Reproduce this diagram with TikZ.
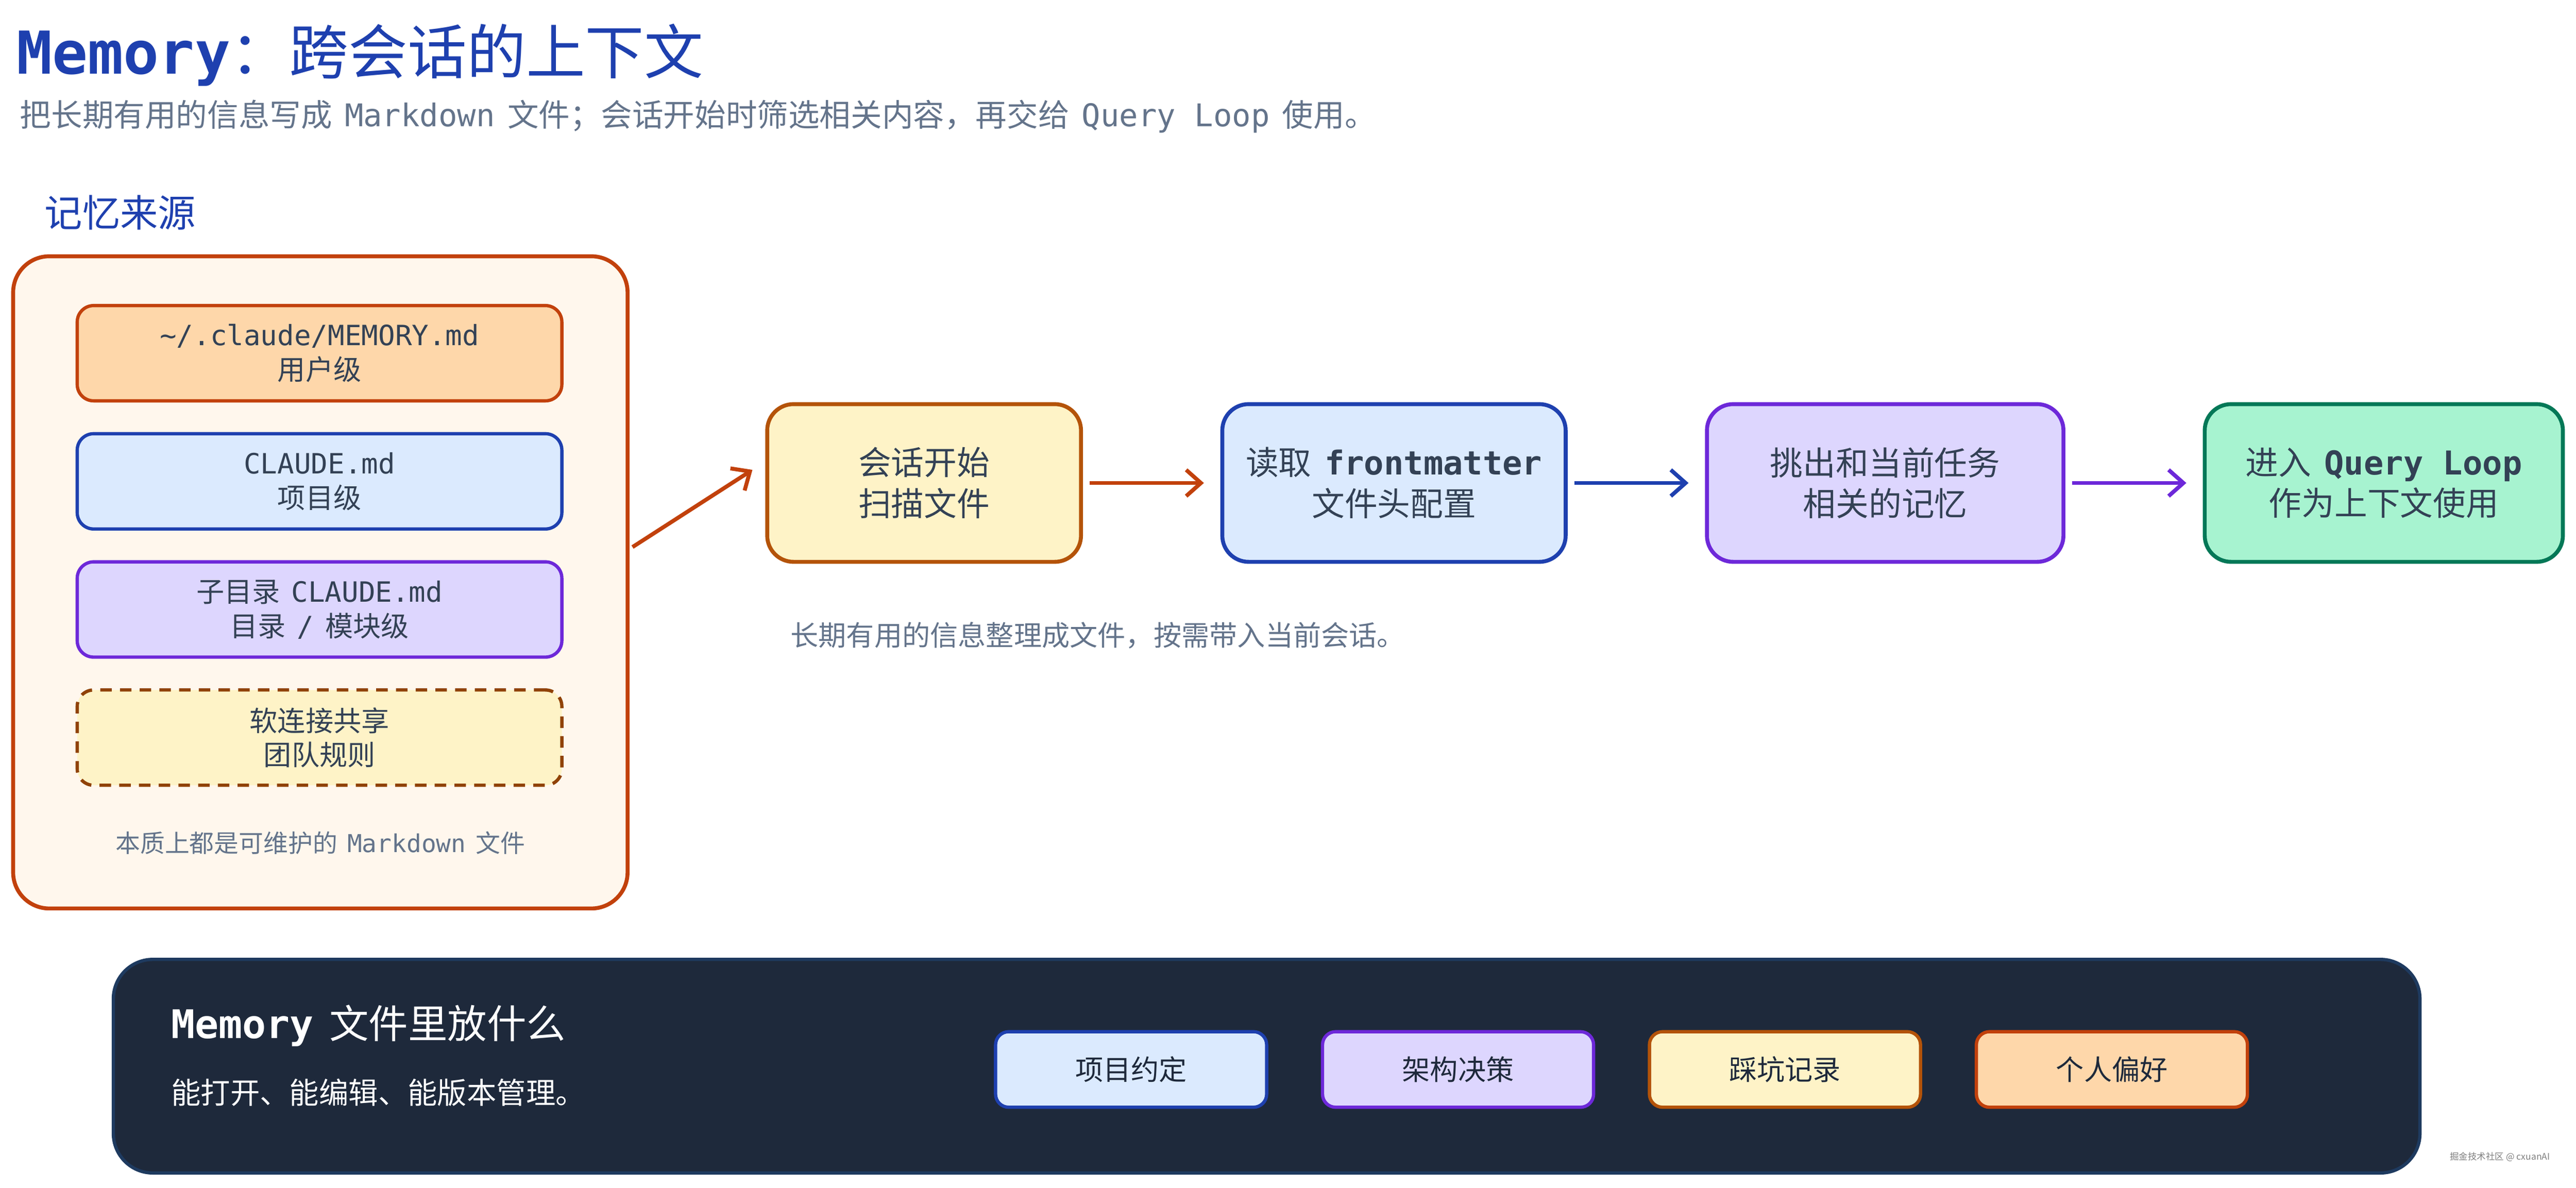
\documentclass[tikz,border=0pt]{standalone}
\usepackage{fontspec}
\setmainfont{Noto Sans CJK SC}
\setmonofont{DejaVu Sans Mono}
\usetikzlibrary{arrows.meta}
\newcommand{\mt}[1]{\hspace{0.4em}\texttt{#1}\hspace{0.4em}}
\definecolor{tblue}{HTML}{1E40AF}
\definecolor{tgray}{HTML}{64748B}
\definecolor{ink}{HTML}{334155}
\definecolor{oF}{HTML}{FED7AA}\definecolor{oS}{HTML}{C2410C}
\definecolor{bF}{HTML}{DBEAFE}\definecolor{bS}{HTML}{1E40AF}
\definecolor{pF}{HTML}{DDD6FE}\definecolor{pS}{HTML}{6D28D9}
\definecolor{yF}{HTML}{FEF3C7}\definecolor{yS}{HTML}{B45309}
\definecolor{gF}{HTML}{A7F3D0}\definecolor{gS}{HTML}{047857}
\definecolor{cF}{HTML}{FFF7ED}
\definecolor{dark}{HTML}{1E293B}\definecolor{darkS}{HTML}{1E3A5F}
\begin{document}
\begin{tikzpicture}[x=1pt,y=-1pt,
  box/.style={draw,line width=2pt,rounded corners=10pt,align=center,text=ink,font=\fontsize{17}{21}\selectfont,inner sep=0pt},
  flow/.style={draw,line width=2.4pt,rounded corners=16pt,align=center,text=ink,font=\fontsize{20}{25}\selectfont,inner sep=0pt},
  chip/.style={draw,line width=2pt,rounded corners=8pt,align=center,text=dark,font=\fontsize{17}{21}\selectfont,minimum width=165pt,minimum height=46pt,inner sep=0pt},
  arr/.style={line width=2.4pt,-{Straight Barb[length=9pt,width=16pt]}}]
\useasboundingbox (0,0) rectangle (1568,723);
\fill[white] (0,0) rectangle (1568,723);
\node[anchor=base west,text=tblue,font=\fontsize{36}{40}\selectfont,inner sep=0pt] (title) at (10,45) {\texttt{\bfseries Memory}：跨会话的上下文};
\node[anchor=base west,text=tgray,font=\fontsize{19}{22}\selectfont,inner sep=0pt] (sub) at (12,77) {把长期有用的信息写成\mt{Markdown}文件；会话开始时筛选相关内容，再交给\mt{Query Loop}使用。};
\node[anchor=base west,text=tblue,font=\fontsize{23}{27}\selectfont,inner sep=0pt] (src) at (27,138) {记忆来源};
\draw[oS,fill=cF,line width=2.4pt,rounded corners=22pt] (8,156) rectangle (382,553);
\node[box,draw=oS,fill=oF,minimum width=295pt,minimum height=58pt] (m1) at (194.5,215) {\texttt{\textasciitilde/.claude/MEMORY.md}\\用户级};
\node[box,draw=bS,fill=bF,minimum width=295pt,minimum height=58pt] (m2) at (194.5,293) {\texttt{CLAUDE.md}\\项目级};
\node[box,draw=pS,fill=pF,minimum width=295pt,minimum height=58pt] (m3) at (194.5,371) {子目录\mt{CLAUDE.md}\\目录\mt{/}模块级};
\node[box,draw=yS!80!black,fill=yF,dashed,dash pattern=on 7pt off 5pt,minimum width=295pt,minimum height=58pt] (m4) at (194.5,449) {软连接共享\\团队规则};
\node[text=tgray,font=\fontsize{15}{18}\selectfont] (note) at (195,513) {本质上都是可维护的\mt{Markdown}文件};
\coordinate (cout) at (385,333);
\node[flow,draw=yS,fill=yF,minimum width=191pt,minimum height=96pt] (f1) at (562.5,294) {会话开始\\扫描文件};
\node[flow,draw=bS,fill=bF,minimum width=209pt,minimum height=96pt] (f2) at (848.5,294) {读取\mt{\bfseries frontmatter}\\文件头配置};
\node[flow,draw=pS,fill=pF,minimum width=217pt,minimum height=96pt] (f3) at (1147.5,294) {挑出和当前任务\\相关的记忆};
\node[flow,draw=gS,fill=gF,minimum width=218pt,minimum height=96pt] (f4) at (1451,294) {进入\mt{\bfseries Query Loop}\\作为上下文使用};
\draw[arr,oS] (cout) -- (458,286);
\draw[arr,oS] (f1.east) ++(4,0) -- ([xshift=-10pt]f2.west);
\draw[arr,bS] (f2.east) ++(4,0) -- ([xshift=-10pt]f3.west);
\draw[arr,pS] (f3.east) ++(4,0) -- ([xshift=-10pt]f4.west);
\node[anchor=base west,text=tgray,font=\fontsize{17}{20}\selectfont,inner sep=0pt] (cap) at (481,393) {长期有用的信息整理成文件，按需带入当前会话。};
\draw[darkS,fill=dark,line width=2pt,rounded corners=24pt] (69,584) rectangle (1473,714);
\node[anchor=base west,text=white,font=\fontsize{24}{28}\selectfont,inner sep=0pt] (bt) at (104,632) {\texttt{\bfseries Memory}\hspace{0.4em}文件里放什么};
\node[anchor=base west,text=white,font=\fontsize{18}{22}\selectfont,inner sep=0pt] (bs) at (104,672) {能打开、能编辑、能版本管理。};
\node[chip,draw=bS,fill=bF] (c1) at (688.5,651) {项目约定};
\node[chip,draw=pS,fill=pF] (c2) at (887.5,651) {架构决策};
\node[chip,draw=yS,fill=yF] (c3) at (1086.5,651) {踩坑记录};
\node[chip,draw=oS,fill=oF] (c4) at (1285.5,651) {个人偏好};
\node[anchor=base west,text=gray,font=\fontsize{5.5}{6}\selectfont,inner sep=0pt] (wm) at (1491,706) {掘金技术社区 @ cxuanAI};
\end{tikzpicture}
\end{document}
